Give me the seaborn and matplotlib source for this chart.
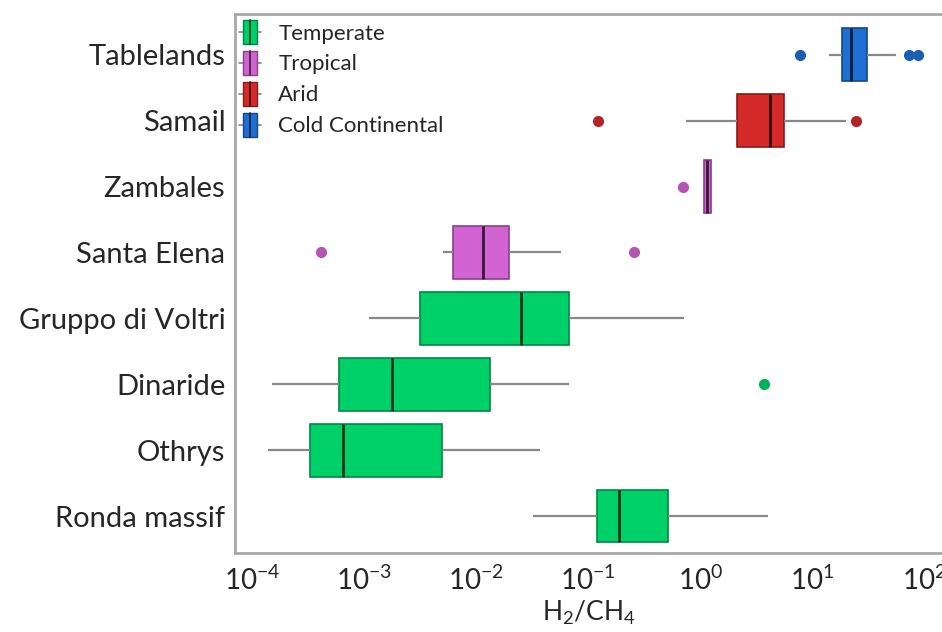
import matplotlib
matplotlib.use("Agg")
import matplotlib.pyplot as plt
import numpy as np
import pandas as pd
import seaborn as sns
from matplotlib.colors import to_rgb
from matplotlib.legend_handler import HandlerBase
from matplotlib.lines import Line2D
from matplotlib.patches import Patch, Rectangle

# values (H2/CH4 ratio)
sites = ["Tablelands", "Samail", "Zambales", "Santa Elena",
         "Gruppo di Voltri", "Dinaride", "Othrys", "Ronda massif"]
climates = ["Cold Continental", "Arid", "Tropical", "Tropical",
            "Temperate", "Temperate", "Temperate", "Temperate"]
whisker_lo = [14.1, 0.745, 1.077, 0.0051, 0.0011, 1.5e-4, 1.38e-4, 0.0319]
q1 = [18.2, 2.13, 1.077, 0.0062, 0.00316, 5.97e-4, 3.28e-4, 0.1186]
median = [21.9, 4.18, 1.15, 0.0116, 0.0251, 1.77e-3, 6.47e-4, 0.187]
q3 = [30.9, 5.57, 1.236, 0.0198, 0.0667, 0.0134, 4.99e-3, 0.519]
whisker_hi = [56.0, 20.0, 1.236, 0.057, 0.708, 0.0667, 0.0369, 4.0]
outliers = [[7.8, 72.0, 88.0], [0.123, 24.5], [0.695], [4.1e-4, 0.258],
            [], [3.69], [], []]

climate_order = ["Temperate", "Tropical", "Arid", "Cold Continental"]
palette = {"Temperate": "#00d068", "Tropical": "#d263d2",
           "Arid": "#d42a2a", "Cold Continental": "#1f6fd2"}


def darker(c, f):
    return tuple(np.array(to_rgb(c)) * f)


# rebuild observations that give the same box statistics
rows = []
for i, s in enumerate(sites):
    vals = ([whisker_lo[i]] + [q1[i]] * 3 + [median[i]] * 3 + [q3[i]] * 3
            + [whisker_hi[i]] + outliers[i])
    for v in vals:
        rows.append({"site": s, "climate": climates[i], "ratio": v})
df = pd.DataFrame(rows)

sns.set_style("white")
plt.rcParams["font.family"] = ["Lato", "DejaVu Sans"]
plt.rcParams["mathtext.fontset"] = "custom"
plt.rcParams["mathtext.rm"] = "Lato"

fig = plt.figure(figsize=(9.42, 6.32), dpi=100)
ax = fig.add_axes([0.2495, 0.125, 0.7505, 0.853])

sns.boxplot(data=df, x="ratio", y="site", hue="climate", order=sites,
            hue_order=climate_order, palette=palette, saturation=1,
            log_scale=True, width=0.8, whis=1.5, showcaps=False,
            legend=False, linecolor="#888888", linewidth=1.6,
            flierprops={"marker": "o", "markersize": 7}, ax=ax)

for cont in ax.containers:
    fc = cont.boxes[0].get_facecolor()
    for b in cont.boxes:
        b.set_edgecolor(darker(fc, 0.65))
        b.set_linewidth(1.2)
    for m in cont.medians:
        m.set_color(darker(fc, 0.25))
        m.set_linewidth(2)
    for fl in cont.fliers:
        fl.set_markerfacecolor(darker(fc, 0.85))
        fl.set_markeredgecolor(darker(fc, 0.85))

ax.set_xlim(10 ** -4.15, 10 ** 2.155)
ax.set_ylim(7.56, -0.62)
ax.set_xlabel(r"$\mathregular{H_2/CH_4}$", fontsize=19, labelpad=3)
ax.set_ylabel("")
ax.tick_params(axis="y", labelsize=21, length=5, width=1.2, color="#555555", pad=2)
ax.tick_params(axis="x", which="major", labelsize=20, direction="inout",
               length=8, width=1.2, color="#888888", pad=5)
ax.tick_params(axis="x", which="minor", direction="inout", length=4,
               width=0.8, color="#888888")
for side in ["left", "bottom", "top"]:
    ax.spines[side].set_color("#a8a8a8")
    ax.spines[side].set_linewidth(2)
ax.spines["right"].set_visible(False)


class BoxHandle(HandlerBase):
    def create_artists(self, legend, orig_handle, xdescent, ydescent,
                       width, height, fontsize, trans):
        fc = orig_handle.get_facecolor()
        cx = width / 2 - xdescent
        cy = height / 2 - ydescent
        whisk = Line2D([-xdescent, width - xdescent], [cy, cy],
                       color="#888888", lw=1.2, transform=trans)
        box = Rectangle((cx - width * 0.32, -ydescent), width * 0.64, height,
                        facecolor=fc, edgecolor=darker(fc, 0.65), lw=1,
                        transform=trans)
        med = Line2D([cx, cx], [-ydescent, height - ydescent],
                     color=darker(fc, 0.3), lw=1.2, transform=trans)
        return [whisk, box, med]


handles = [Patch(facecolor=palette[c]) for c in climate_order]
ax.legend(handles, climate_order, handler_map={Patch: BoxHandle()},
          loc="upper left", bbox_to_anchor=(0.0, 0.997), frameon=False,
          fontsize=16, handlelength=0.95, handleheight=1.3, handletextpad=0.8,
          labelspacing=0.3, borderpad=0.2, borderaxespad=0.0)

fig.savefig("out.png", dpi=100)
